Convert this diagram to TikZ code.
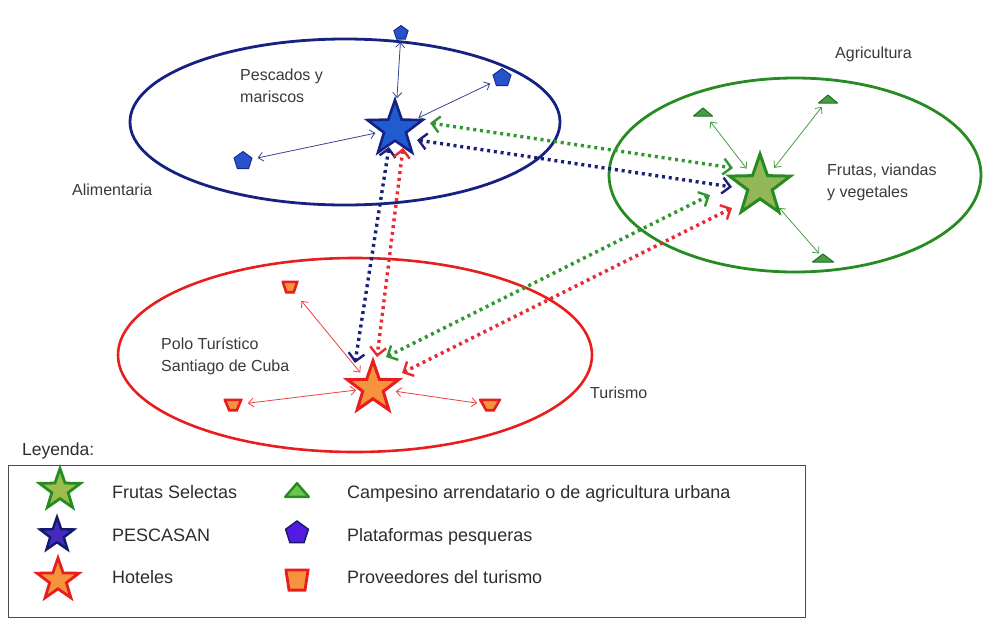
\documentclass[tikz,border=0pt]{standalone}
\usepackage{fontspec}
\setmainfont{Liberation Sans}
\usetikzlibrary{shapes.geometric,arrows.meta}
\definecolor{navy}{RGB}{22,34,130}
\definecolor{bfill}{RGB}{32,92,208}
\definecolor{gdark}{RGB}{38,140,34}
\definecolor{gfill}{RGB}{145,183,88}
\definecolor{rdark}{RGB}{232,30,30}
\definecolor{ofill}{RGB}{245,148,60}
\definecolor{txt}{RGB}{58,58,58}
\definecolor{pfill}{RGB}{38,82,202}
\definecolor{pdark}{RGB}{22,40,140}
\definecolor{gdot}{RGB}{48,150,48}
\definecolor{bdot}{RGB}{26,32,122}
\definecolor{rdot}{RGB}{232,42,50}
\definecolor{lpfill}{RGB}{84,26,228}
\definecolor{lbfill}{RGB}{70,42,190}
\definecolor{ltfill}{RGB}{104,198,78}
\pgfdeclarelayer{bg}
\pgfsetlayers{bg,main}
\begin{document}
\begin{tikzpicture}[x=1pt,y=-1pt,
  lbl/.style={text=txt, font=\fontsize{16}{22}\selectfont, align=left, inner sep=0},
  legtxt/.style={text=black!82, font=\fontsize{18}{22}\selectfont, inner sep=0, anchor=base west},
  starbase/.style={star, star points=5, star point ratio=2.5, inner sep=0, line join=miter},
  bluestar/.style={starbase, draw=navy, fill=bfill, line width=2.6pt},
  greenstar/.style={starbase, draw=gdark, fill=gfill, line width=3pt},
  redstar/.style={starbase, draw=rdark, fill=ofill, line width=3pt},
  pent/.style={regular polygon, regular polygon sides=5, inner sep=0, fill=pfill, draw=pdark, line width=0.9pt},
  tri/.style={rectangle, inner sep=0, minimum width=20pt, minimum height=9pt,
    path picture={\path[fill=gdark!85!white, draw=gdark!80!black, line width=1pt, line join=round]
      ([shift={(0.5pt,0.5pt)}]path picture bounding box.south west) --
      ([shift={(0pt,-0.5pt)}]path picture bounding box.north) --
      ([shift={(-0.5pt,0.5pt)}]path picture bounding box.south east) -- cycle;}},
  legtri/.style={rectangle, inner sep=0, minimum width=26pt, minimum height=16pt,
    path picture={\path[fill=ltfill, draw=gdark, line width=2.4pt, line join=round]
      ([shift={(1.2pt,1.2pt)}]path picture bounding box.south west) --
      ([shift={(0pt,-1.2pt)}]path picture bounding box.north) --
      ([shift={(-1.2pt,1.2pt)}]path picture bounding box.south east) -- cycle;}},
  trap/.style={rectangle, inner sep=0, minimum width=19pt, minimum height=13pt,
    path picture={\path[fill=ofill, draw=rdark, line width=2.6pt, line join=miter]
      ([shift={(1.3pt,-1.3pt)}]path picture bounding box.north west) --
      ([shift={(-1.3pt,-1.3pt)}]path picture bounding box.north east) --
      ([shift={(3.8pt,1.3pt)}]path picture bounding box.south) --
      ([shift={(-3.8pt,1.3pt)}]path picture bounding box.south) -- cycle;}},
  legtrap/.style={rectangle, inner sep=0, minimum width=25pt, minimum height=23pt,
    path picture={\path[fill=ofill, draw=rdark, line width=2.8pt, line join=miter]
      ([shift={(1.4pt,-1.4pt)}]path picture bounding box.north west) --
      ([shift={(-1.4pt,-1.4pt)}]path picture bounding box.north east) --
      ([shift={(8pt,1.4pt)}]path picture bounding box.south) --
      ([shift={(-8pt,1.4pt)}]path picture bounding box.south) -- cycle;}},
  thinarr/.style={line width=0.8pt, {Straight Barb[length=5pt,width=9pt]}-{Straight Barb[length=5pt,width=9pt]}},
  dotarr/.style={line width=3.4pt, dash pattern=on 3pt off 3.8pt,
    {Straight Barb[length=8pt,width=16pt,line width=2.4pt]}-{Straight Barb[length=8pt,width=16pt,line width=2.4pt]}},
]
\useasboundingbox (0,0) rectangle (985,619);
\begin{pgfonlayer}{bg}
  \fill[white] (0,0) rectangle (985,619);
  \draw[navy, line width=2.8pt] (345,122) ellipse [x radius=215pt, y radius=83pt];
  \draw[gdark, line width=2.8pt] (795,175) ellipse [x radius=186pt, y radius=97pt];
  \draw[rdark, line width=2.6pt] (355,355) ellipse [x radius=237pt, y radius=97pt];
\end{pgfonlayer}

% main actors
\node[bluestar, minimum size=58pt] (pesc) at (395,129) {};
\node[greenstar, minimum size=64pt] (frut) at (760,186) {};
\node[redstar, minimum size=54pt] (hot) at (373,388) {};

% fishing platforms
\node[pent, minimum size=15pt] (p1) at (401,33) {};
\node[pent, minimum size=19pt] (p2) at (502,78) {};
\node[pent, minimum size=19pt] (p3) at (243,161) {};

% farmers
\node[tri] (t1) at (703,112) {};
\node[tri] (t2) at (828,99) {};
\node[tri, minimum width=22pt] (t3) at (823,258) {};

% tourism providers
\node[trap, minimum width=17pt] (s1) at (290,287) {};
\node[trap] (s2) at (233,405) {};
\node[trap, minimum width=22pt] (s3) at (490,405) {};

% labels
\node[lbl, anchor=north west] (lpesc) at (240,68.5) {Pescados y\\mariscos};
\node[lbl, anchor=base west] (lali) at (72,195.5) {Alimentaria};
\node[lbl, anchor=base west] (lagr) at (835,58) {Agricultura};
\node[lbl, anchor=north west] (lfru) at (827,163.5) {Frutas, viandas\\y vegetales};
\node[lbl, anchor=north west] (lpolo) at (161,337.5) {Polo Turístico\\Santiago de Cuba};
\node[lbl, anchor=base west] (ltur) at (590,398.5) {Turismo};

% legend
\node[text=black!82, font=\fontsize{17.5}{20}\selectfont, inner sep=0, anchor=base west] (leyenda) at (22,455) {Leyenda:};
\node[draw=black!70, line width=1.4pt, minimum width=797pt, minimum height=152pt, inner sep=0, anchor=north west] (legbox) at (8,465) {};
\node[greenstar, minimum size=43pt, line width=2.8pt, fill=gfill!90!yellow] (lg1) at (60,490) {};
\node[starbase, minimum size=36pt, draw=navy!80!black, fill=lbfill, line width=2.4pt] (lg2) at (57,535) {};
\node[redstar, minimum size=44pt, line width=2.8pt] (lg3) at (58,580) {};
\node[legtxt] (lt1) at (112,498) {Frutas Selectas};
\node[legtxt] (lt2) at (112,541.5) {PESCASAN};
\node[legtxt] (lt3) at (112,583.5) {Hoteles};
\node[legtri] (lg4) at (297,490) {};
\node[pent, minimum size=24pt, fill=lpfill, draw=navy!80!black, line width=1.4pt] (lg5) at (297,533) {};
\node[legtrap] (lg6) at (297,580) {};
\node[legtxt] (lt4) at (347,498) {Campesino arrendatario o de agricultura urbana};
\node[legtxt] (lt5) at (347,541.5) {Plataformas pesqueras};
\node[legtxt] (lt6) at (347,583.5) {Proveedores del turismo};

\begin{pgfonlayer}{bg}
  % thin local links
  \draw[thinarr, navy!85, shorten <=9pt, shorten >=31pt] (p1.center) -- (pesc.center);
  \draw[thinarr, navy!85, shorten <=13pt, shorten >=26pt] (p2.center) -- (pesc.center);
  \draw[thinarr, navy!85, shorten <=15pt, shorten >=20pt] (p3.center) -- (pesc.center);
  \draw[thinarr, gdark!85, shorten <=12pt, shorten >=22pt] (t1.center) -- (frut.center);
  \draw[thinarr, gdark!85, shorten <=10pt, shorten >=23pt] (t2.center) -- (frut.center);
  \draw[thinarr, gdark!85, shorten <=6pt, shorten >=29pt] (t3.center) -- (frut.center);
  \draw[thinarr, rdark!85, shorten <=18pt, shorten >=20pt] (s1.center) -- (hot.center);
  \draw[thinarr, rdark!85, shorten <=15pt, shorten >=17pt] (s2.center) -- (hot.center);
  \draw[thinarr, rdark!85, shorten <=13pt, shorten >=23pt] (s3.center) -- (hot.center);

  % dotted exchanges
  \coordinate (gbA) at (430,123); \coordinate (gbB) at (733,168);
  \coordinate (bgA) at (417,140); \coordinate (bgB) at (732,187);
  \coordinate (bhA) at (389,147); \coordinate (bhB) at (355,363);
  \coordinate (rbA) at (403,148); \coordinate (rbB) at (377,357);
  \coordinate (grA) at (710,195); \coordinate (grB) at (386,357);
  \coordinate (rgA) at (732,208); \coordinate (rgB) at (402,373);
  \draw[dotarr, gdot] (gbA) -- (gbB);
  \draw[dotarr, bdot] (bgA) -- (bgB);
  \draw[dotarr, bdot] (bhA) -- (bhB);
  \draw[dotarr, rdot] (rbA) -- (rbB);
  \draw[dotarr, gdot] (grA) -- (grB);
  \draw[dotarr, rdot] (rgA) -- (rgB);
\end{pgfonlayer}
\end{tikzpicture}
\end{document}
